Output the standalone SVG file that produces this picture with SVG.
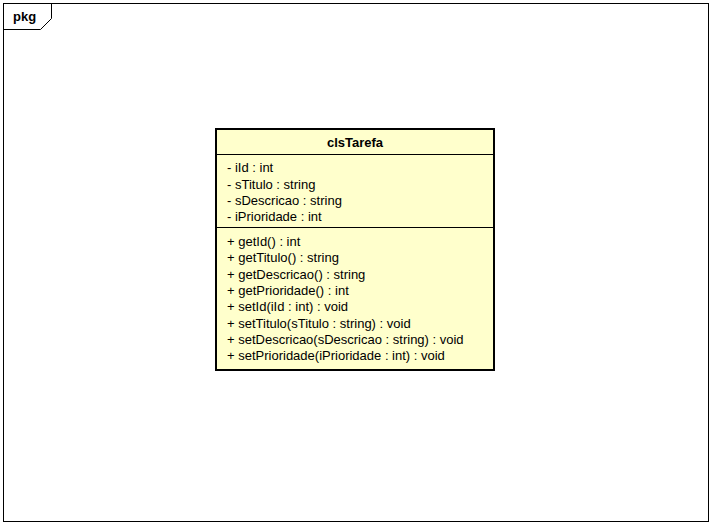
<svg xmlns="http://www.w3.org/2000/svg" width="711" height="526" viewBox="0 0 711 526">
<style>
.t{font-family:"Liberation Sans",Arial,sans-serif;font-size:13px;fill:#000}
.b{font-weight:bold}
.ln{stroke:#000;fill:none}
</style>
<rect width="711" height="526" fill="#fff"/>
<g id="frame">
<rect x="3.5" y="3.5" width="705" height="518" class="ln"/>
<path d="M3.5 29.5 H40.5 L51.5 18.5 V3.5" class="ln"/>
<text x="13" y="21" class="t b">pkg</text>
</g>
<g id="clsTarefa">
<rect x="216" y="129" width="278" height="241" fill="#FFFFCC" stroke="#000" stroke-width="2"/>
<line x1="216" y1="154.5" x2="494" y2="154.5" stroke="#000"/>
<line x1="216" y1="227.5" x2="494" y2="227.5" stroke="#000"/>
<text x="355" y="147" class="t b" text-anchor="middle">clsTarefa</text>
<text x="227" y="172" class="t">- iId : int</text>
<text x="227" y="188.5" class="t">- sTitulo : string</text>
<text x="227" y="205" class="t">- sDescricao : string</text>
<text x="227" y="221" class="t">- iPrioridade : int</text>
<text x="227" y="245.5" class="t">+ getId() : int</text>
<text x="227" y="262" class="t">+ getTitulo() : string</text>
<text x="227" y="278.5" class="t">+ getDescricao() : string</text>
<text x="227" y="294.5" class="t">+ getPrioridade() : int</text>
<text x="227" y="311" class="t">+ setId(iId : int) : void</text>
<text x="227" y="327.5" class="t">+ setTitulo(sTitulo : string) : void</text>
<text x="227" y="344" class="t">+ setDescricao(sDescricao : string) : void</text>
<text x="227" y="360" class="t">+ setPrioridade(iPrioridade : int) : void</text>
</g>
<g id="connectors"/>
</svg>
